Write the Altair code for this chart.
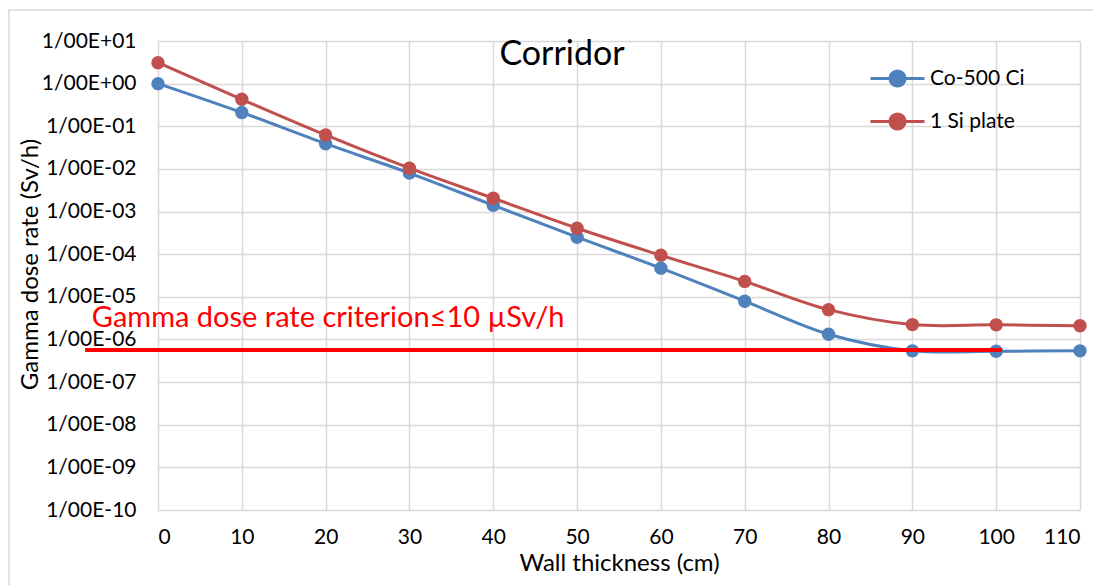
import altair as alt
import pandas as pd

# ---- data ----
thickness = [0, 10, 20, 30, 40, 50, 60, 70, 80, 90, 100, 110]
co500 = [1.0, 0.21, 0.039, 8.0e-3, 1.4e-3, 2.5e-4, 4.7e-5, 7.9e-6, 1.32e-6, 5.4e-7, 5.3e-7, 5.4e-7]
si_plate = [3.1, 0.43, 0.0625, 0.0104, 2.05e-3, 4.05e-4, 9.4e-5, 2.3e-5, 5.0e-6, 2.23e-6, 2.2e-6, 2.1e-6]
series_names = ["Co-500 Ci", "1 Si plate"]
series_colors = ["#4f81bd", "#c0504d"]

chart_title = ["Corridor"]

criterion_value = [5.66e-7]
criterion_x_start = [-8.7]
criterion_x_end = [100.7]
criterion_label = ["Gamma dose rate criterion\u226410 \u00b5Sv/h"]
criterion_label_x = [-7.9]
criterion_label_y = [3.2e-6]

x_ticks = [0, 10, 20, 30, 40, 50, 60, 70, 80, 90, 100, 110]
y_tick_values = [1e-10, 1e-9, 1e-8, 1e-7, 1e-6, 1e-5, 1e-4, 1e-3, 1e-2, 1e-1, 1e0, 1e1]
y_tick_labels = ["1/00E-10", "1/00E-09", "1/00E-08", "1/00E-07", "1/00E-06", "1/00E-05",
                 "1/00E-04", "1/00E-03", "1/00E-02", "1/00E-01", "1/00E+00", "1/00E+01"]

FONT = "Lato"

rows = []
for name, vals in zip(series_names, [co500, si_plate]):
    for t, v in zip(thickness, vals):
        rows.append({"thickness": t, "dose": v, "series": name})
df = pd.DataFrame(rows)

label_arr = "[" + ",".join("'%s'" % s for s in y_tick_labels) + "]"
label_expr = label_arr + "[round(log(datum.value)/LN10) + 10]"

x_enc = alt.X("thickness:Q",
              scale=alt.Scale(domain=[0, 110], nice=False, zero=False),
              axis=alt.Axis(values=x_ticks, title="Wall thickness (cm)", labelPadding=16,
                            titleY=53, titleBaseline="middle"))
y_enc = alt.Y("dose:Q",
              scale=alt.Scale(type="log", domain=[1e-10, 10], nice=False),
              axis=alt.Axis(values=y_tick_values, labelExpr=label_expr,
                            title="Gamma dose rate (Sv/h)", labelPadding=22,
                            titleX=-128, titleY=223, titleBaseline="middle", titleAlign="center"))

legend_path = ("M-1,0 L1,0 M-0.28,0 A0.28,0.28 0 1,1 0.28,0 "
               "A0.28,0.28 0 1,1 -0.28,0 Z")
color_enc = alt.Color("series:N",
                      scale=alt.Scale(domain=series_names, range=series_colors),
                      sort=series_names,
                      legend=alt.Legend(title=None, orient="none", legendX=711, legendY=9,
                                        symbolType=legend_path, symbolSize=2916,
                                        symbolStrokeWidth=3, symbolOpacity=1,
                                        labelFontSize=21, labelFont=FONT, labelColor="#000000",
                                        labelOffset=4, rowPadding=-9))

frame = alt.Chart(pd.DataFrame({"a": [0]})).mark_rect(
    fill=None, stroke="#d9d9d9", strokeWidth=1.5, clip=False).encode(
    x=alt.value(-149), x2=alt.value(1200), y=alt.value(-31), y2=alt.value(700))

title_text = alt.Chart(pd.DataFrame({"t": chart_title})).mark_text(
    fontSize=34, font=FONT, color="#000000", align="center", baseline="middle",
    clip=False).encode(x=alt.value(404), y=alt.value(14), text="t:N")

lines = alt.Chart(df).mark_line(interpolate="catmull-rom", strokeWidth=3).encode(
    x=x_enc, y=y_enc, color=color_enc)
points = alt.Chart(df).mark_circle(size=180, opacity=1).encode(
    x=x_enc, y=y_enc, color=color_enc)

crit_df = pd.DataFrame({"x": criterion_x_start, "x2": criterion_x_end, "y": criterion_value})
crit_rule = alt.Chart(crit_df).mark_rule(color="#ff0000", strokeWidth=4, clip=False).encode(
    x="x:Q", x2="x2:Q", y="y:Q")

lab_df = pd.DataFrame({"x": criterion_label_x, "y": criterion_label_y, "t": criterion_label})
crit_text = alt.Chart(lab_df).mark_text(align="left", baseline="middle", color="#ff0000",
                                        fontSize=29, font=FONT).encode(
    x="x:Q", y="y:Q", text="t:N")

chart = alt.layer(frame, title_text, lines, points, crit_rule, crit_text).properties(
    width=922, height=469,
    autosize=alt.AutoSizeParams(type="none"),
    padding={"left": 150, "top": 33, "right": 13, "bottom": 75},
).configure_axis(
    grid=True, gridColor="#d9d9d9", gridWidth=1.5, domain=False, ticks=False,
    labelFont=FONT, labelFontSize=21, labelColor="#000000",
    titleFont=FONT, titleFontSize=24, titleColor="#000000", titleFontWeight="normal",
).configure_view(stroke=None)

chart.save("out.html", embed_options={"renderer": "svg", "actions": False})
